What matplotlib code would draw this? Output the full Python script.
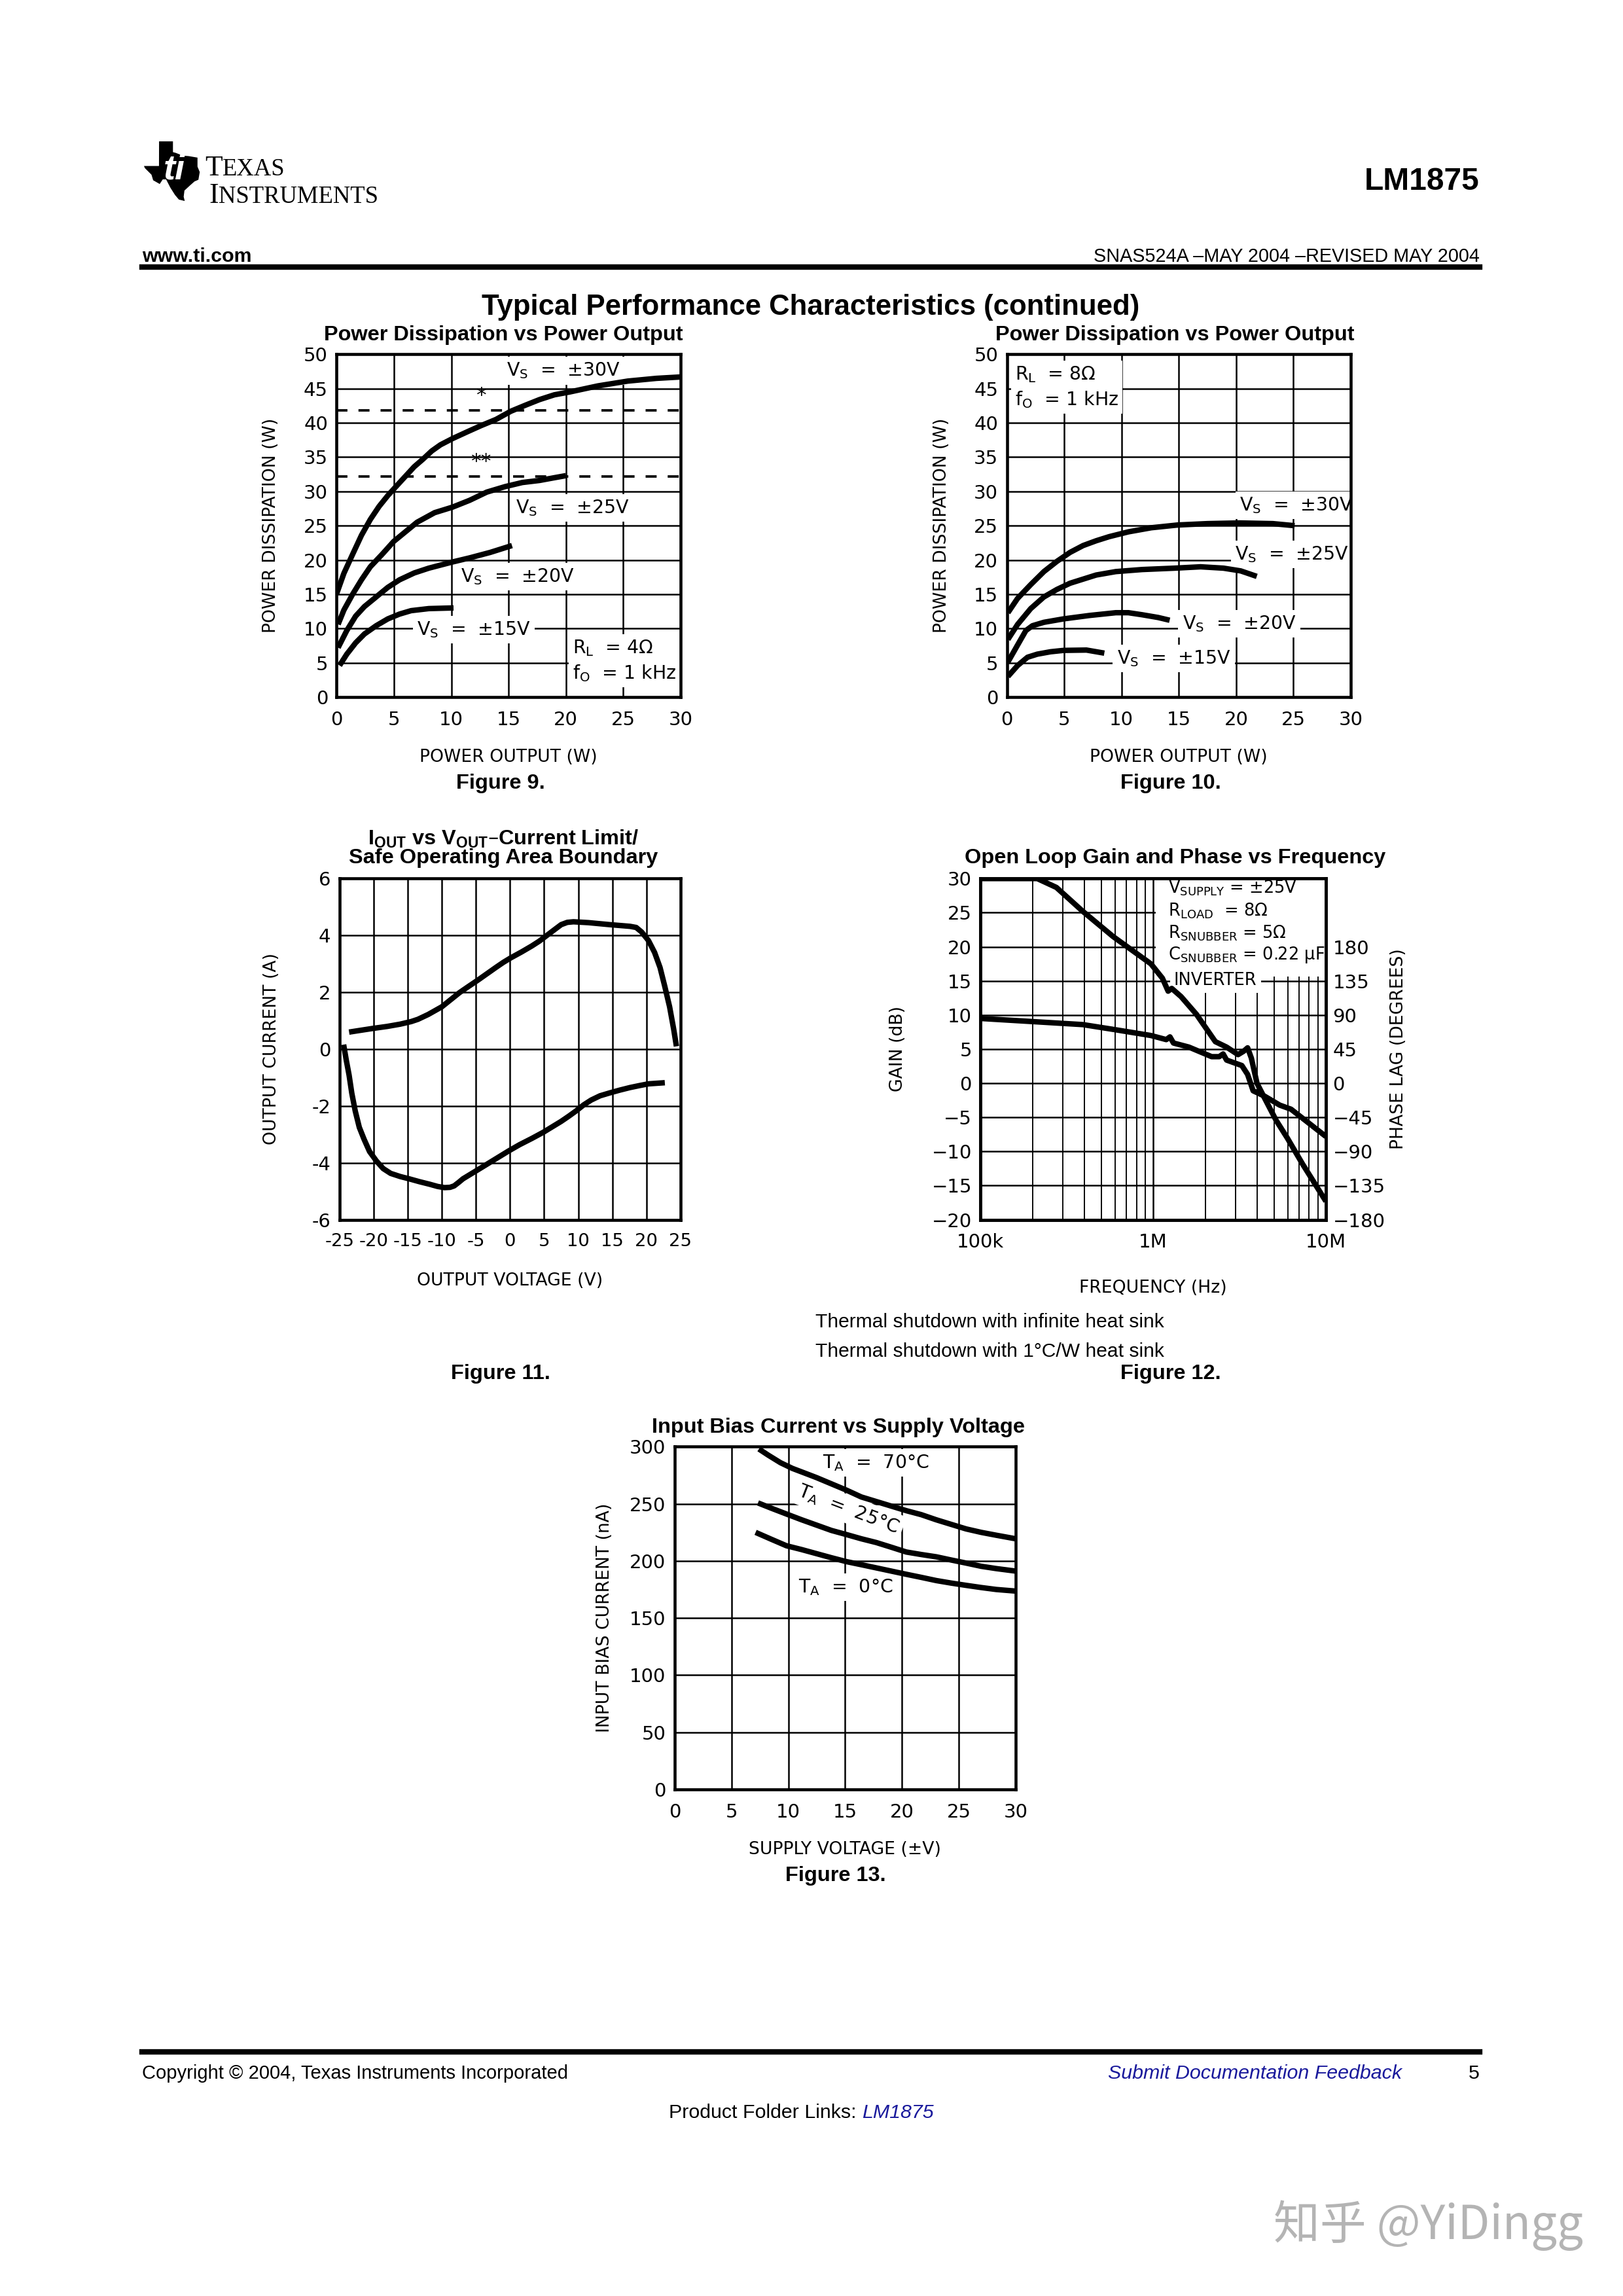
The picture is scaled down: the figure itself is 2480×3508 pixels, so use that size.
import matplotlib
matplotlib.use("Agg")
import matplotlib.pyplot as plt
from matplotlib import font_manager
from matplotlib.patches import Polygon, Rectangle

# ------------------------------------------------------------------ data
# Figure 9 - Power Dissipation vs Power Output (RL = 4 ohm, f0 = 1 kHz)
f9_vs30_x = [0.0, 0.64, 1.4, 2.17, 2.94, 3.7, 4.47, 5.23, 6.0, 6.77, 7.53, 8.3, 9.06, 10.1, 11.4,
             12.6, 13.9, 15.2, 16.5, 17.7, 19.0, 20.3, 22.8, 25.4, 27.9, 30.0]
f9_vs30_y = [15.05, 18.06, 20.83, 23.6, 25.9, 27.8, 29.4, 30.8, 32.2, 33.6, 34.7, 35.9, 36.8, 37.7,
             38.7, 39.6, 40.5, 41.7, 42.6, 43.4, 44.1, 44.5, 45.4, 46.1, 46.5, 46.7]
f9_vs25_x = [0.13, 0.64, 1.4, 2.17, 2.94, 3.96, 4.98, 6.0, 7.02, 8.55, 10.1, 11.6, 13.1, 14.7,
             16.2, 17.7, 19.0, 20.0]
f9_vs25_y = [10.6, 12.7, 15.0, 17.1, 19.0, 20.8, 22.7, 24.1, 25.5, 26.9, 27.7, 28.7, 29.9, 30.7,
             31.3, 31.6, 32.0, 32.3]
f9_vs20_x = [0.13, 0.89, 1.66, 2.43, 3.45, 4.47, 5.49, 6.77, 8.04, 10.1, 11.6, 13.4, 15.3]
f9_vs20_y = [7.2, 9.7, 11.8, 13.2, 14.6, 16.0, 17.1, 18.1, 18.8, 19.7, 20.3, 21.1, 22.1]
f9_vs15_x = [0.26, 0.89, 1.66, 2.43, 3.45, 4.47, 5.49, 6.5, 8.04, 10.2]
f9_vs15_y = [4.6, 6.25, 7.9, 9.2, 10.4, 11.4, 12.1, 12.6, 12.9, 13.0]
f9_shutdown = [41.85, 32.2]          # *  infinite heat sink,  ** 1 C/W heat sink

# Figure 10 - Power Dissipation vs Power Output (RL = 8 ohm, f0 = 1 kHz)
f10_vs30_x = [0.09, 0.94, 2.08, 3.23, 4.37, 5.51, 6.65, 7.79, 8.93, 10.6, 12.6, 14.9, 17.5,
              20.3, 23.2, 25.1]
f10_vs30_y = [12.3, 14.4, 16.4, 18.3, 19.8, 21.1, 22.1, 22.8, 23.4, 24.1, 24.7, 25.1, 25.3,
              25.4, 25.3, 25.0]
f10_vs25_x = [0.09, 0.94, 2.08, 3.23, 4.37, 5.51, 6.65, 7.79, 9.5, 11.8, 14.6, 16.9, 18.9,
              20.4, 21.8]
f10_vs25_y = [8.4, 10.6, 12.9, 14.6, 15.7, 16.6, 17.2, 17.8, 18.3, 18.6, 18.8, 19.0, 18.8,
              18.4, 17.6]
f10_vs20_x = [0.09, 0.94, 1.66, 2.23, 3.23, 4.94, 7.22, 9.5, 10.6, 11.8, 13.2, 14.2]
f10_vs20_y = [5.1, 7.6, 9.7, 10.4, 10.9, 11.4, 11.9, 12.3, 12.3, 12.0, 11.6, 11.2]
f10_vs15_x = [0.09, 0.94, 1.8, 2.65, 3.8, 4.94, 6.94, 8.5]
f10_vs15_y = [3.0, 4.6, 5.8, 6.25, 6.6, 6.8, 6.85, 6.4]

# Figure 11 - IOUT vs VOUT current limit / SOA boundary
f11_src_v = [-23.6, -22.0, -20.1, -18.0, -16.1, -14.5, -13.5, -12.0, -10.0, -8.7, -7.4, -6.0,
             -4.7, -3.4, -2.1, -1.0, 0.1, 1.7, 3.2, 4.3, 5.4, 6.5, 7.5, 8.4, 9.3, 11.5, 14.6,
             17.6, 18.5, 19.3, 20.3, 21.2, 22.0, 22.7, 23.4, 24.0, 24.4]
f11_src_i = [0.6, 0.66, 0.73, 0.8, 0.88, 0.97, 1.05, 1.22, 1.49, 1.74, 1.99, 2.22,
             2.43, 2.65, 2.87, 3.05, 3.21, 3.42, 3.63, 3.8, 4.0, 4.2, 4.38, 4.46, 4.48, 4.45, 4.38,
             4.32, 4.28, 4.12, 3.82, 3.4, 2.87, 2.2, 1.49, 0.7, 0.1]
f11_snk_v = [-24.4, -24.0, -23.6, -23.2, -22.7, -22.1, -21.4, -20.6, -19.6, -18.6, -17.5, -16.1,
             -14.8, -13.3, -11.8, -10.6, -9.6, -8.8, -8.2, -7.5, -6.9, -5.8, -4.7, -3.2, -1.7,
             -0.2, 1.4, 3.2, 4.9, 6.2, 7.5, 8.6, 9.7, 10.8, 11.9, 13.2, 14.6, 16.1, 17.6, 19.0,
             20.3, 22.7]
f11_snk_i = [0.16, -0.4, -0.91, -1.55, -2.17, -2.75, -3.17, -3.6, -3.93, -4.2, -4.37, -4.48,
             -4.56, -4.66, -4.75, -4.83, -4.87, -4.86, -4.81, -4.68, -4.56, -4.40, -4.24, -4.02,
             -3.80, -3.58, -3.36, -3.14, -2.92, -2.73, -2.54, -2.36, -2.17, -1.96, -1.79, -1.64,
             -1.54, -1.44, -1.35, -1.28, -1.22, -1.18]

# Figure 12 - Open loop gain and phase vs frequency
f12_gain_f = [1.0e5, 2.13e5, 2.75e5, 3.91e5, 5.86e5, 9.7e5, 1.13e6, 1.22e6, 1.28e6, 1.45e6,
              1.78e6, 2.07e6, 2.29e6, 2.66e6, 3.10e6, 3.34e6, 3.52e6, 3.70e6, 3.99e6, 4.42e6,
              5.14e6, 5.97e6, 7.31e6, 1.0e7]
f12_gain_db = [30, 30, 28.7, 25.2, 21.5, 17.5, 15.4, 13.5, 13.9, 12.7,
               10.1, 7.7, 6.1, 5.3, 4.2, 4.7, 5.2, 3.7, 0.0, -2.2,
               -5.4, -8.0, -11.8, -17.3]
f12_phase_f = [1.0e5, 2.13e5, 3.91e5, 5.86e5, 9.7e5, 1.19e6, 1.25e6, 1.31e6, 1.61e6, 2.18e6,
               2.41e6, 2.54e6, 2.66e6, 3.26e6, 3.52e6, 3.79e6, 4.42e6, 5.40e6, 6.28e6, 1.0e7]
f12_phase_deg = [85.5, 81, 77.4, 71.1, 63, 57.6, 61.2, 53.1, 47.7, 35.1,
                 35.1, 38.7, 30.6, 23.4, 11.7, -9.9, -17.1, -28.8, -34.2, -70.2]

# Figure 13 - Input bias current vs supply voltage
f13_t70_v = [7.41, 8.25, 9.31, 10.36, 11.42, 12.47, 13.79, 15.11, 16.42, 17.74, 19.06, 20.38,
             21.70, 23.02, 24.33, 25.65, 26.97, 28.29, 30.0]
f13_t70_i = [298, 292.5, 286, 281, 277, 273, 267.5, 262, 256, 252, 248, 244, 240.5, 236, 232,
             228, 225, 222.5, 219.4]
f13_t25_v = [7.33, 8.52, 9.83, 11.15, 12.47, 13.79, 15.11, 16.42, 17.74, 19.06, 20.38, 21.70,
             23.02, 24.33, 25.65, 26.97, 28.29, 30.0]
f13_t25_i = [250.8, 246.1, 241.1, 236.1, 231.4, 226.7, 223.1, 219.4, 216.1, 212.0, 207.8, 205.6,
             203.6, 200.8, 198.1, 195.3, 193.3, 191.1]
f13_t0_v = [7.12, 8.52, 9.83, 11.15, 12.47, 13.79, 15.11, 16.42, 17.74, 19.06, 20.38, 21.70,
            23.02, 24.33, 25.65, 26.97, 28.29, 30.0]
f13_t0_i = [225, 218.9, 213.3, 210, 206.4, 202.8, 199.4, 196.7, 193.9, 191.1, 188.3, 185.6,
            182.8, 180.6, 178.6, 176.7, 175, 173.6]

# Texas outline for the logo (lon, lat)
texas_lon = [-103.04, -100.0, -100.0, -99.2, -97.5, -96.0, -94.04, -94.04, -93.5, -93.8, -94.7,
             -95.9, -97.2, -97.4, -97.2, -98.3, -99.2, -100.3, -101.4, -102.4, -103.1, -104.5,
             -104.9, -106.5, -106.62, -103.06]
texas_lat = [36.5, 36.5, 34.56, 34.4, 33.9, 33.8, 33.55, 31.99, 31.0, 29.7, 29.4,
             28.6, 27.7, 26.5, 25.9, 26.1, 26.9, 28.2, 29.8, 29.8, 29.0, 29.6,
             30.6, 31.8, 32.0, 32.0]

# ------------------------------------------------------------------ style
names = {f.name for f in font_manager.fontManager.ttflist}
SANS = 'Liberation Sans' if 'Liberation Sans' in names else 'DejaVu Sans'
SERIF = 'Liberation Serif' if 'Liberation Serif' in names else 'DejaVu Serif'
STROKE = 'DejaVu Sans'

plt.rcParams['font.family'] = [STROKE]
plt.rcParams['mathtext.default'] = 'regular'
plt.rcParams['axes.unicode_minus'] = False

W_REF, H_REF = 1109.0, 1568.0


def fx(x):
    return x / W_REF


def fy(y):
    return 1.0 - y / H_REF


fig = plt.figure(figsize=(2480 / 300, 3508 / 300), dpi=300)
fig.patch.set_facecolor('white')

CURVE_LW = 2.0
GRID_LW = 0.6
TICK_FS = 7.0
LABEL_FS = 6.4
NOTE_FS = 6.8
TITLE_FS = 7.8


def ftext(xr, yr, s, **kw):
    return fig.text(fx(xr), fy(yr), s, **kw)


def make_axes(l, t, r, b):
    ax = fig.add_axes([fx(l), fy(b), fx(r) - fx(l), fy(t) - fy(b)])
    ax.set_axisbelow(True)
    for sp in ax.spines.values():
        sp.set_linewidth(1.1)
        sp.set_zorder(6)
    ax.tick_params(length=0, labelsize=TICK_FS, pad=3.2)
    ax.tick_params(axis='x', pad=5.0)
    ax.grid(True, which='major', color='black', lw=GRID_LW)
    return ax


def box_text(ax, x, y, s, **kw):
    kw.setdefault('fontsize', NOTE_FS)
    kw.setdefault('va', 'center')
    kw.setdefault('ha', 'left')
    return ax.text(x, y, s, zorder=4,
                   bbox=dict(facecolor='white', edgecolor='none', pad=1.5), **kw)


def curve(ax, xs, ys):
    ax.plot(xs, ys, color='black', lw=CURVE_LW, solid_capstyle='butt',
            solid_joinstyle='round', zorder=5)


# ------------------------------------------------------------------ header
logo_x = [99 + (lon + 106.65) / 13.15 * 37 for lon in texas_lon]
logo_y = [137 - (lat - 25.8) / 10.7 * 40 for lat in texas_lat]
fig.patches.append(Polygon(list(zip([fx(v) for v in logo_x], [fy(v) for v in logo_y])),
                           closed=True, transform=fig.transFigure, facecolor='black',
                           edgecolor='black', lw=0.5))
ftext(119, 116, 'ti', color='white', fontsize=13, weight='bold', style='italic',
      family=SANS, ha='center', va='center')

renderer = fig.canvas.get_renderer()


def capword(xr, yr, first, rest, big, small):
    t = ftext(xr, yr, first, fontsize=big, family=SERIF, va='baseline', ha='left')
    bb = t.get_window_extent(renderer=renderer)
    fig.text(bb.x1 / fig.bbox.width, fy(yr), rest, fontsize=small, family=SERIF,
             va='baseline', ha='left')


capword(140, 120, 'T', 'EXAS', 10.5, 8.8)
capword(143, 138.5, 'I', 'NSTRUMENTS', 10.5, 8.8)

ftext(1011, 124, 'LM1875', fontsize=11.5, weight='bold', family=SANS,
      ha='right', va='center')
ftext(97, 175, 'www.ti.com', fontsize=7.3, weight='bold', family=SANS, ha='left', va='center')
ftext(1011, 175, 'SNAS524A –MAY 2004 –REVISED MAY 2004', fontsize=6.9, family=SANS,
      ha='right', va='center')
fig.lines.append(plt.Line2D([fx(97), fx(1011)], [fy(182.5), fy(182.5)], color='black',
                            lw=2.0, transform=fig.transFigure))

ftext(554, 210, 'Typical Performance Characteristics (continued)', fontsize=10.5,
      weight='bold', family=SANS, ha='center', va='center')

# ------------------------------------------------------------------ Figure 9
ax9 = make_axes(230, 242, 465, 476)
ax9.set_xlim(0, 30)
ax9.set_ylim(0, 50)
ax9.set_xticks(range(0, 31, 5))
ax9.set_yticks(range(0, 51, 5))
for xs, ys in [(f9_vs30_x, f9_vs30_y), (f9_vs25_x, f9_vs25_y),
               (f9_vs20_x, f9_vs20_y), (f9_vs15_x, f9_vs15_y)]:
    curve(ax9, xs, ys)
for lvl in f9_shutdown:
    ax9.axhline(lvl, color='black', lw=0.9, ls=(0, (4.5, 4.5)), zorder=3)
ax9.text(12.6, 44.0, '*', fontsize=7.5, ha='center', va='center')
ax9.text(12.6, 34.3, '**', fontsize=7.5, ha='center', va='center')
box_text(ax9, 14.8, 47.6, 'V$_S$  =  ±30V')
box_text(ax9, 15.6, 27.6, 'V$_S$  =  ±25V')
box_text(ax9, 10.8, 17.6, 'V$_S$  =  ±20V')
box_text(ax9, 7.0, 9.8, 'V$_S$  =  ±15V')
box_text(ax9, 20.6, 5.3, 'R$_L$  = 4Ω\nf$_O$  = 1 kHz', linespacing=1.35)
ax9.set_xlabel('POWER OUTPUT (W)', fontsize=LABEL_FS)
ax9.set_ylabel('POWER DISSIPATION (W)', fontsize=LABEL_FS)
ax9.xaxis.set_label_coords(0.5, -0.175)
ax9.xaxis.label.set_va('center')
ax9.yaxis.set_label_coords(-0.19, 0.5)
ax9.yaxis.label.set_va('center')
ftext(344, 229, 'Power Dissipation vs Power Output', fontsize=TITLE_FS, weight='bold',
      family=SANS, ha='center', va='center')
ftext(342, 535, 'Figure 9.', fontsize=TITLE_FS, weight='bold', family=SANS,
      ha='center', va='center')

# ------------------------------------------------------------------ Figure 10
ax10 = make_axes(688, 242, 923, 476)
ax10.set_xlim(0, 30)
ax10.set_ylim(0, 50)
ax10.set_xticks(range(0, 31, 5))
ax10.set_yticks(range(0, 51, 5))
for xs, ys in [(f10_vs30_x, f10_vs30_y), (f10_vs25_x, f10_vs25_y),
               (f10_vs20_x, f10_vs20_y), (f10_vs15_x, f10_vs15_y)]:
    curve(ax10, xs, ys)
box_text(ax10, 20.3, 28.0, 'V$_S$  =  ±30V')
box_text(ax10, 19.9, 20.8, 'V$_S$  =  ±25V')
box_text(ax10, 15.3, 10.7, 'V$_S$  =  ±20V')
box_text(ax10, 9.6, 5.6, 'V$_S$  =  ±15V')
box_text(ax10, 0.7, 45.2, 'R$_L$  = 8Ω\nf$_O$  = 1 kHz', linespacing=1.35)
ax10.set_xlabel('POWER OUTPUT (W)', fontsize=LABEL_FS)
ax10.set_ylabel('POWER DISSIPATION (W)', fontsize=LABEL_FS)
ax10.xaxis.set_label_coords(0.5, -0.175)
ax10.xaxis.label.set_va('center')
ax10.yaxis.set_label_coords(-0.19, 0.5)
ax10.yaxis.label.set_va('center')
ftext(803, 229, 'Power Dissipation vs Power Output', fontsize=TITLE_FS, weight='bold',
      family=SANS, ha='center', va='center')
ftext(800, 535, 'Figure 10.', fontsize=TITLE_FS, weight='bold', family=SANS,
      ha='center', va='center')

# ------------------------------------------------------------------ Figure 11
ax11 = make_axes(232, 600, 465, 833)
ax11.set_xlim(-25, 25)
ax11.set_ylim(-6, 6)
v_ticks = list(range(-25, 26, 5))
i_ticks = list(range(-6, 7, 2))
ax11.set_xticks(v_ticks)
ax11.set_xticklabels([str(v) for v in v_ticks])
ax11.set_yticks(i_ticks)
ax11.set_yticklabels([str(v) for v in i_ticks])
ax11.tick_params(axis='x', labelsize=6.6)
curve(ax11, f11_src_v, f11_src_i)
curve(ax11, f11_snk_v, f11_snk_i)
ax11.set_xlabel('OUTPUT VOLTAGE (V)', fontsize=LABEL_FS)
ax11.set_ylabel('OUTPUT CURRENT (A)', fontsize=LABEL_FS)
ax11.xaxis.set_label_coords(0.5, -0.18)
ax11.xaxis.label.set_va('center')
ax11.yaxis.set_label_coords(-0.20, 0.5)
ax11.yaxis.label.set_va('center')
ftext(344, 573, 'I$_{OUT}$ vs V$_{OUT}$–Current Limit/', fontsize=TITLE_FS, weight='bold',
      family=SANS, ha='center', va='center')
ftext(344, 586, 'Safe Operating Area Boundary', fontsize=TITLE_FS, weight='bold',
      family=SANS, ha='center', va='center')
ftext(342, 938, 'Figure 11.', fontsize=TITLE_FS, weight='bold', family=SANS,
      ha='center', va='center')

# ------------------------------------------------------------------ Figure 12
ax12 = make_axes(670, 600, 906, 833)
ax12.set_xscale('log')
ax12.set_xlim(1e5, 1e7)
ax12.set_ylim(-20, 30)
gain_ticks = list(range(-20, 31, 5))
ax12.set_yticks(gain_ticks)
ax12.set_yticklabels([str(v).replace('-', '−') for v in gain_ticks])
ax12.set_xticks([1e5, 1e6, 1e7])
ax12.set_xticklabels(['100k', '1M', '10M'])
ax12.set_xticks([m * d for d in (1e5, 1e6) for m in range(2, 10)], minor=True)
ax12.tick_params(which='minor', length=0)
ax12.xaxis.set_minor_formatter(matplotlib.ticker.NullFormatter())
ax12.grid(True, which='minor', axis='x', color='black', lw=0.45)
curve(ax12, f12_gain_f, f12_gain_db)
ax12.add_patch(Rectangle((1.03e6, 15.6), 1e7 - 1.03e6, 14.4, facecolor='white',
                         edgecolor='none', zorder=2))
note_fs = 6.2
ax12.text(1.22e6, 28.6, 'V$_{SUPPLY}$ = ±25V', fontsize=note_fs, va='center', zorder=4)
ax12.text(1.22e6, 25.3, 'R$_{LOAD}$  = 8Ω', fontsize=note_fs, va='center', zorder=4)
ax12.text(1.22e6, 22.0, 'R$_{SNUBBER}$ = 5Ω', fontsize=note_fs, va='center', zorder=4)
ax12.text(1.22e6, 18.8, 'C$_{SNUBBER}$ = 0.22 μF', fontsize=note_fs, va='center', zorder=4)
box_text(ax12, 1.32e6, 15.1, 'INVERTER', fontsize=note_fs)
ax12b = ax12.twinx()
ax12b.set_ylim(-180, 270)
phase_ticks = list(range(-180, 181, 45))
ax12b.set_yticks(phase_ticks)
ax12b.set_yticklabels([str(v).replace('-', '−') for v in phase_ticks])
ax12b.tick_params(length=0, labelsize=TICK_FS, pad=2.5)
curve(ax12b, f12_phase_f, f12_phase_deg)
for sp in ax12b.spines.values():
    sp.set_linewidth(1.1)
ax12.set_xlabel('FREQUENCY (Hz)', fontsize=LABEL_FS)
ax12.set_ylabel('GAIN (dB)', fontsize=LABEL_FS)
ax12b.set_ylabel('PHASE LAG (DEGREES)', fontsize=LABEL_FS)
ax12.xaxis.set_label_coords(0.5, -0.20)
ax12.xaxis.label.set_va('center')
ax12.yaxis.set_label_coords(-0.24, 0.5)
ax12.yaxis.label.set_va('center')
ax12b.yaxis.set_label_coords(1.21, 0.5)
ax12b.yaxis.label.set_va('center')
ftext(803, 586, 'Open Loop Gain and Phase vs Frequency', fontsize=TITLE_FS, weight='bold',
      family=SANS, ha='center', va='center')
ftext(557, 903, 'Thermal shutdown with infinite heat sink', fontsize=7.2, family=SANS,
      ha='left', va='center')
ftext(557, 923, 'Thermal shutdown with 1°C/W heat sink', fontsize=7.2, family=SANS,
      ha='left', va='center')
ftext(800, 938, 'Figure 12.', fontsize=TITLE_FS, weight='bold', family=SANS,
      ha='center', va='center')

# ------------------------------------------------------------------ Figure 13
ax13 = make_axes(461, 988, 694, 1222)
ax13.set_xlim(0, 30)
ax13.set_ylim(0, 300)
ax13.set_xticks(range(0, 31, 5))
ax13.set_yticks(range(0, 301, 50))
for xs, ys in [(f13_t70_v, f13_t70_i), (f13_t25_v, f13_t25_i), (f13_t0_v, f13_t0_i)]:
    curve(ax13, xs, ys)
box_text(ax13, 13.0, 286, 'T$_A$  =  70°C')
box_text(ax13, 15.3, 245, 'T$_A$  =  25°C', ha='center', rotation=-21,
         rotation_mode='anchor')
box_text(ax13, 10.9, 177, 'T$_A$  =  0°C')
ax13.set_xlabel('SUPPLY VOLTAGE (±V)', fontsize=LABEL_FS)
ax13.set_ylabel('INPUT BIAS CURRENT (nA)', fontsize=LABEL_FS)
ax13.xaxis.set_label_coords(0.5, -0.175)
ax13.xaxis.label.set_va('center')
ax13.yaxis.set_label_coords(-0.205, 0.5)
ax13.yaxis.label.set_va('center')
ftext(573, 975, 'Input Bias Current vs Supply Voltage', fontsize=TITLE_FS, weight='bold',
      family=SANS, ha='center', va='center')
ftext(571, 1281, 'Figure 13.', fontsize=TITLE_FS, weight='bold', family=SANS,
      ha='center', va='center')

# ------------------------------------------------------------------ footer
fig.lines.append(plt.Line2D([fx(97), fx(1011)], [fy(1401.5), fy(1401.5)], color='black',
                            lw=2.0, transform=fig.transFigure))
ftext(97, 1416, 'Copyright © 2004, Texas Instruments Incorporated', fontsize=7.0,
      family=SANS, ha='left', va='center')
ftext(958, 1416, 'Submit Documentation Feedback', fontsize=7.3, family=SANS,
      style='italic', color='#1a1a9c', ha='right', va='center')
ftext(1011, 1416, '5', fontsize=7.3, family=SANS, ha='right', va='center')
t_pf = ftext(457, 1443, 'Product Folder Links: ', fontsize=7.3, family=SANS,
             ha='left', va='center')
bb = t_pf.get_window_extent(renderer=renderer)
fig.text(bb.x1 / fig.bbox.width, fy(1443), 'LM1875', fontsize=7.3, family=SANS,
         style='italic', color='#1a1a9c', ha='left', va='center')

ftext(1082, 1520, '知乎 @YiDingg', fontsize=17, color='#b4b4b4',
      family=['Noto Sans CJK SC', 'DejaVu Sans'], ha='right', va='center')

fig.savefig('out.png', dpi=300, facecolor='white')
